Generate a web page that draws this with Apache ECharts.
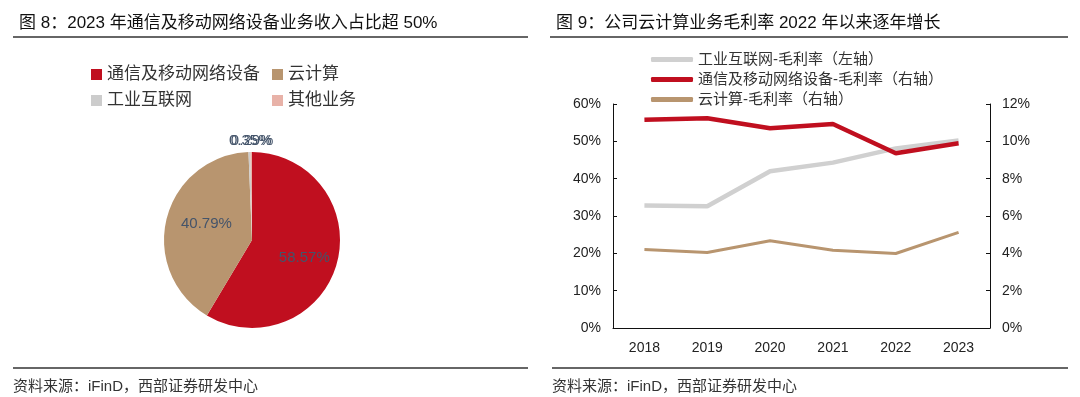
<!DOCTYPE html>
<html>
<head>
<meta charset="utf-8">
<script src="https://cdn.jsdelivr.net/npm/echarts@6/dist/echarts.min.js"></script>
<style>
  html, body { margin: 0; padding: 0; background: #fff; }
  #main { width: 1080px; height: 397px; }
</style>
</head>
<body>
<div id="main"></div>
<script>
// 图8 收入占比
const pieNames = ['通信及移动网络设备', '云计算', '工业互联网', '其他业务'];
const pieValues = [58.57, 40.79, 0.35, 0.29];
const pieColors = ['#C00F1F', '#B8956F', '#CCCCCC', '#E8B2A8'];

// 图9 毛利率
const years = ['2018', '2019', '2020', '2021', '2022', '2023'];
const industrialMargin = [32.8, 32.6, 42.0, 44.3, 48.1, 50.2]; // 左轴
const telecomMargin = [11.15, 11.24, 10.7, 10.93, 9.36, 9.9]; // 右轴
const cloudMargin = [4.2, 4.04, 4.67, 4.17, 3.99, 5.12]; // 右轴
const lineNames = ['工业互联网-毛利率（左轴）', '通信及移动网络设备-毛利率（右轴）', '云计算-毛利率（右轴）'];

const font = '"Liberation Sans", "Noto Sans CJK SC", sans-serif';

const line = (x1, y1, x2, y2) => ({
  type: 'line',
  shape: { x1, y1, x2, y2 },
  style: { stroke: '#333', lineWidth: 1.5 },
});

const titleStyle = { fontSize: 17, fontWeight: 'normal', color: '#111', fontFamily: font };
const srcStyle = { fontSize: 15, fontWeight: 'normal', color: '#333', fontFamily: font };

// 饼图标签微调
const labelShift = [{ dx: 7, dy: 5 }, { dy: -5 }, { align: 'center', dx: 6, dy: -4 }, { align: 'center', dx: 6, dy: -4 }];

const option = {
  textStyle: { fontFamily: font },
  title: [
    { text: '图 8：2023 年通信及移动网络设备业务收入占比超 50%', left: 14, top: 10, textStyle: titleStyle },
    { text: '图 9：公司云计算业务毛利率 2022 年以来逐年增长', left: 551, top: 10, textStyle: titleStyle },
    { text: '资料来源：iFinD，西部证券研发中心', left: 13, top: 379, padding: 0, textStyle: srcStyle },
    { text: '资料来源：iFinD，西部证券研发中心', left: 552, top: 379, padding: 0, textStyle: srcStyle },
  ],
  graphic: [
    line(13, 37, 528, 37),
    line(13, 368, 528, 368),
    line(550, 37, 1068, 37),
    line(552, 368, 1068, 368),
  ],
  color: pieColors,
  legend: [
    { data: [pieNames[0], pieNames[2]], left: 86, top: 61, orient: 'vertical', itemGap: 9,
      itemWidth: 11, itemHeight: 11, icon: 'rect', textStyle: { fontSize: 17, color: '#333' } },
    { data: [pieNames[1], pieNames[3]], left: 267, top: 61, orient: 'vertical', itemGap: 9,
      itemWidth: 11, itemHeight: 11, icon: 'rect', textStyle: { fontSize: 17, color: '#333' } },
    { data: lineNames, left: 646, top: 47, orient: 'vertical', itemGap: 5,
      itemWidth: 42, itemHeight: 5, icon: 'roundRect', textStyle: { fontSize: 15, color: '#333' } },
  ],
  grid: { left: 613, right: 90, top: 104, bottom: 69 },
  xAxis: {
    type: 'category',
    data: years,
    boundaryGap: true,
    axisLine: { lineStyle: { color: '#111', width: 1 } },
    axisTick: { inside: true, length: 5, lineStyle: { color: '#111' } },
    axisLabel: { fontSize: 14, color: '#222', margin: 13 },
  },
  yAxis: [
    {
      type: 'value', min: 0, max: 60, interval: 10,
      axisLine: { show: true, lineStyle: { color: '#111' } },
      axisTick: { show: true, inside: true, length: 4, lineStyle: { color: '#111' } },
      axisLabel: { formatter: '{value}%', fontSize: 14, color: '#222', margin: 12 },
      splitLine: { show: false },
    },
    {
      type: 'value', min: 0, max: 12, interval: 2,
      axisLine: { show: true, lineStyle: { color: '#111' } },
      axisTick: { show: true, inside: true, length: 4, lineStyle: { color: '#111' } },
      axisLabel: { formatter: '{value}%', fontSize: 14, color: '#222', margin: 12 },
      splitLine: { show: false },
    },
  ],
  series: [
    {
      type: 'pie',
      center: [252, 240],
      radius: 88,
      startAngle: 90,
      clockwise: true,
      avoidLabelOverlap: false,
      label: { show: true, position: 'inside', fontSize: 15, color: '#44546A' },
      labelLine: { show: false, length: 7, length2: 0 },
      labelLayout: (p) => labelShift[p.dataIndex],
      emphasis: { disabled: true },
      data: pieNames.map((n, i) => ({
        name: n,
        value: pieValues[i],
        itemStyle: { color: pieColors[i] },
        label: i >= 2 ? { position: 'outside', formatter: pieValues[i].toFixed(2) + '%' }
                      : { formatter: pieValues[i].toFixed(2) + '%' },
      })),
    },
    {
      name: lineNames[0], type: 'line', yAxisIndex: 0, data: industrialMargin,
      showSymbol: false, symbol: 'none', color: '#D0D0D0', lineStyle: { width: 4.5, color: '#D0D0D0' }, z: 2,
    },
    {
      name: lineNames[1], type: 'line', yAxisIndex: 1, data: telecomMargin,
      showSymbol: false, symbol: 'none', color: '#C00F1F', lineStyle: { width: 4.5, color: '#C00F1F' }, z: 3,
    },
    {
      name: lineNames[2], type: 'line', yAxisIndex: 1, data: cloudMargin,
      showSymbol: false, symbol: 'none', color: '#B8956F', lineStyle: { width: 3, color: '#B8956F' }, z: 2,
    },
  ],
};

const myChart = echarts.init(document.getElementById('main'));
myChart.setOption(option);
</script>
</body>
</html>
